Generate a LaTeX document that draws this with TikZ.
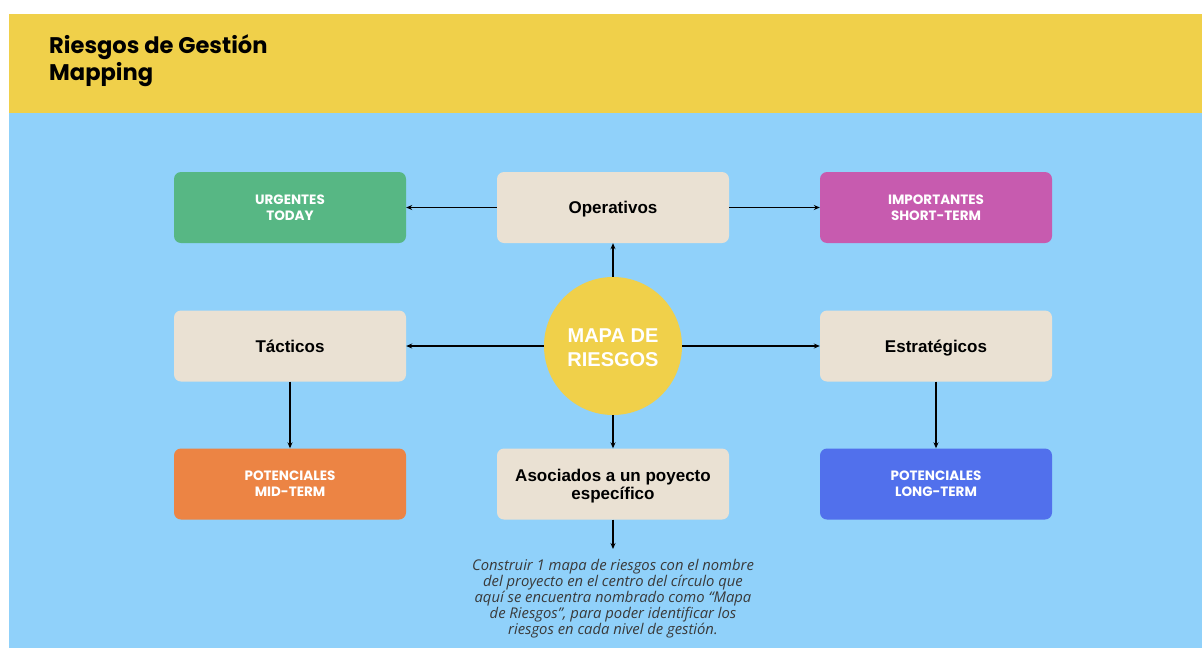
\documentclass[tikz,border=0pt]{standalone}
\usepackage{fontspec}
\setmainfont{Liberation Sans}
\newfontfamily\popfont{Poppins}
\newfontfamily\notefont{Open Sans}
\usetikzlibrary{arrows.meta}
\definecolor{bgblue}{HTML}{90D1FA}
\definecolor{hdryellow}{HTML}{F0D04A}
\definecolor{boxbeige}{HTML}{EAE1D3}
\definecolor{boxgreen}{HTML}{57B784}
\definecolor{boxmagenta}{HTML}{C75BAF}
\definecolor{boxorange}{HTML}{EC8444}
\definecolor{boxblue}{HTML}{5170EC}
\definecolor{notegray}{HTML}{3A3A3A}
\tikzset{
  x=1pt, y=-1pt,
  basebox/.style={rectangle, rounded corners=7pt, minimum width=232pt, minimum height=71pt, inner sep=0pt, align=center},
  beigebox/.style={basebox, fill=boxbeige, text=black, font=\fontsize{17}{18}\selectfont\bfseries},
  onelinebox/.style={beigebox, text height=12.2pt, text depth=0pt},
  colorbox/.style={basebox, text=white, font=\popfont\fontsize{13.5}{16}\selectfont\bfseries},
  conn/.style={draw=black, line width=1.2pt, -{Stealth[length=6pt,width=5pt]}},
}
\begin{document}
\begin{tikzpicture}
\useasboundingbox (0,0) rectangle (1202,648);
\fill[white] (0,0) rectangle (1202,648);
\fill[hdryellow] (9,14) rectangle (1202,113);
\fill[bgblue] (9,113) rectangle (1202,648);
\node[anchor=base west, inner sep=0pt, align=left, font=\popfont\fontsize{22.6}{27}\selectfont\bfseries] (title) at (49,80) {Riesgos de Gestión\\Mapping};

\node[colorbox, fill=boxgreen] (urg) at (290,207.5) {URGENTES\\TODAY};
\node[onelinebox] (ope) at (613,207.5) {Operativos};
\node[colorbox, fill=boxmagenta] (imp) at (936,207.5) {IMPORTANTES\\SHORT-TERM};
\node[onelinebox] (tac) at (290,346) {Tácticos};
\node[onelinebox] (est) at (936,346) {Estratégicos};
\node[colorbox, fill=boxorange] (mid) at (290,484) {POTENCIALES\\MID-TERM};
\node[beigebox] (aso) at (613,484) {};
\node[colorbox, fill=boxblue] (lng) at (936,484) {POTENCIALES\\LONG-TERM};
\node[circle, fill=hdryellow, minimum size=138pt, inner sep=0pt] (map) at (613,346) {};
\node[align=center, inner sep=0pt, text=white, font=\fontsize{20}{24}\selectfont\bfseries, yshift=-1.5pt] (maptext) at (map.center) {MAPA DE\\RIESGOS};
\node[align=center, inner sep=0pt, text=black, font=\fontsize{17}{18}\selectfont\bfseries, yshift=-2.5pt] (asotext) at (aso.center) {Asociados a un poyecto\\específico};

\coordinate (noteend) at (613,549);
\node[align=center, text=notegray, inner sep=0pt, font=\notefont\fontsize{14.8}{16}\selectfont\itshape] (note) at (613,599) {Construir 1 mapa de riesgos con el nombre\\del proyecto en el centro del círculo que\\aquí se encuentra nombrado como “Mapa\\de Riesgos”, para poder identificar los\\riesgos en cada nivel de gestión.};

\draw[conn] (ope.west) -- (urg.east);
\draw[conn] (ope.east) -- (imp.west);
\draw[conn] (map.north) -- (ope.south);
\draw[conn] (map.west) -- (tac.east);
\draw[conn] (map.east) -- (est.west);
\draw[conn] (map.south) -- (aso.north);
\draw[conn] (tac.south) -- (mid.north);
\draw[conn] (est.south) -- (lng.north);
\draw[conn] (aso.south) -- (noteend);
\end{tikzpicture}
\end{document}
